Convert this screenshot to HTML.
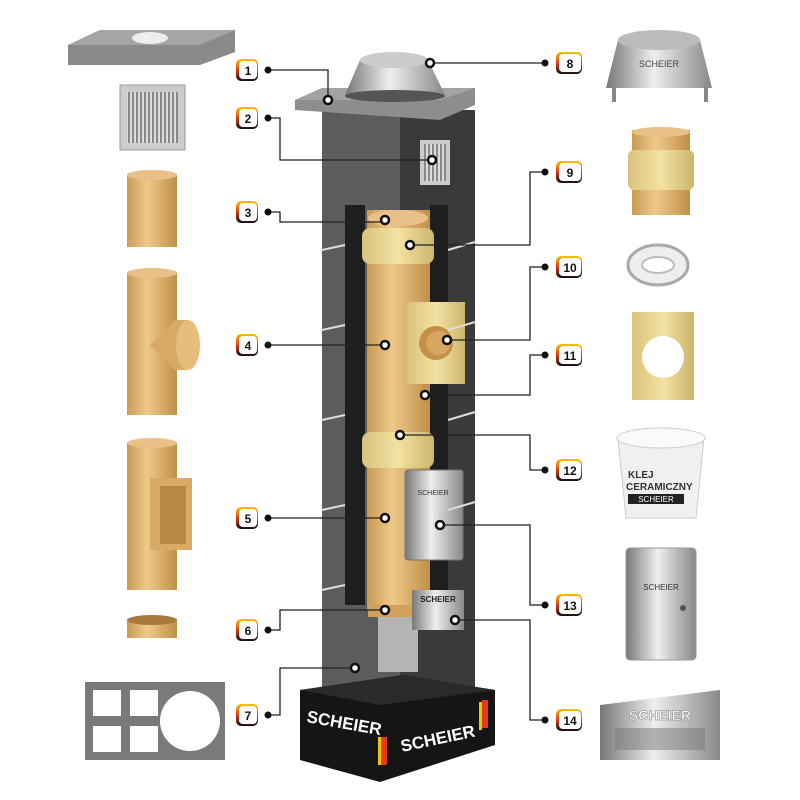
<!DOCTYPE html>
<html><head><style>
body{margin:0;background:#fff;width:800px;height:800px;overflow:hidden}
svg{display:block}
text{font-family:"Liberation Sans",sans-serif}
</style></head><body>
<svg width="800" height="800" viewBox="0 0 800 800" xmlns="http://www.w3.org/2000/svg">
<defs>
<linearGradient id="tan" x1="0" x2="1"><stop offset="0" stop-color="#c99a52"/><stop offset=".4" stop-color="#eec98a"/><stop offset="1" stop-color="#c08f48"/></linearGradient>
<linearGradient id="steel" x1="0" x2="1"><stop offset="0" stop-color="#777"/><stop offset=".45" stop-color="#eee"/><stop offset="1" stop-color="#888"/></linearGradient>
<linearGradient id="ins" x1="0" x2="1"><stop offset="0" stop-color="#d9c27a"/><stop offset=".5" stop-color="#f3e2a4"/><stop offset="1" stop-color="#cdb56b"/></linearGradient>
<linearGradient id="badge" x1="0" x2="0" y1="0" y2="1"><stop offset="0" stop-color="#f5c400"/><stop offset=".5" stop-color="#e03a1a"/><stop offset="1" stop-color="#111"/></linearGradient>
<pattern id="grille" width="4" height="4" patternUnits="userSpaceOnUse"><rect width="4" height="4" fill="#ddd"/><rect width="2" height="4" fill="#888"/></pattern>
</defs>

<!-- LEFT PARTS -->
<polygon points="68,45 100,30 235,30 235,52 200,65 68,65" fill="#8a8a8a"/>
<polygon points="68,45 100,30 235,30 200,45" fill="#a5a5a5"/>
<ellipse cx="150" cy="38" rx="18" ry="6" fill="#eee"/>
<rect x="120" y="85" width="65" height="65" fill="#ccc" stroke="#999"/>
<rect x="127" y="92" width="51" height="51" fill="url(#grille)"/>
<rect x="127" y="175" width="50" height="72" fill="url(#tan)"/>
<ellipse cx="152" cy="175" rx="25" ry="5" fill="#e8c088"/>
<rect x="127" y="273" width="50" height="142" fill="url(#tan)"/>
<ellipse cx="152" cy="273" rx="25" ry="5" fill="#e8c088"/>
<polygon points="150,345 175,320 188,320 188,370 175,370" fill="#d9aa66"/>
<ellipse cx="188" cy="345" rx="12" ry="25" fill="#e6bd7a"/>
<rect x="127" y="443" width="50" height="147" fill="url(#tan)"/>
<ellipse cx="152" cy="443" rx="25" ry="5" fill="#e8c088"/>
<rect x="150" y="478" width="42" height="72" fill="#d9aa66"/>
<rect x="160" y="486" width="26" height="58" fill="#b98843"/>
<rect x="127" y="620" width="50" height="18" fill="url(#tan)"/>
<ellipse cx="152" cy="620" rx="25" ry="5" fill="#a8793a"/>
<rect x="85" y="682" width="140" height="78" fill="#7a7a7a"/>
<rect x="93" y="690" width="28" height="26" fill="#fff"/><rect x="130" y="690" width="28" height="26" fill="#fff"/>
<rect x="93" y="726" width="28" height="26" fill="#fff"/><rect x="130" y="726" width="28" height="26" fill="#fff"/>
<circle cx="190" cy="721" r="30" fill="#fff"/>

<!-- RIGHT PARTS -->
<polygon points="618,40 700,40 712,88 606,88" fill="url(#steel)"/>
<ellipse cx="659" cy="40" rx="41" ry="10" fill="#bbb"/>
<rect x="612" y="86" width="4" height="16" fill="#888"/><rect x="704" y="86" width="4" height="16" fill="#888"/>
<text x="659" y="67" font-size="9" text-anchor="middle" fill="#444">SCHEIER</text>
<rect x="632" y="130" width="58" height="85" fill="url(#tan)"/>
<ellipse cx="661" cy="132" rx="29" ry="5" fill="#e8c088"/>
<rect x="628" y="150" width="66" height="40" rx="6" fill="url(#ins)"/>
<ellipse cx="658" cy="265" rx="30" ry="20" fill="#eee" stroke="#aaa" stroke-width="3"/>
<ellipse cx="658" cy="265" rx="16" ry="8" fill="#fff" stroke="#bbb" stroke-width="2"/>
<rect x="632" y="312" width="62" height="88" fill="url(#ins)"/>
<circle cx="663" cy="357" r="21" fill="#fff"/>
<path d="M618,438 L704,438 L696,518 L626,518 Z" fill="#f0f0f0" stroke="#ccc"/>
<ellipse cx="661" cy="438" rx="44" ry="10" fill="#fafafa" stroke="#ccc"/>
<text x="628" y="478" font-size="10" font-weight="bold" fill="#333">KLEJ</text>
<text x="626" y="490" font-size="10" font-weight="bold" fill="#333">CERAMICZNY</text>
<rect x="628" y="494" width="56" height="10" fill="#222"/>
<text x="656" y="502" font-size="8" text-anchor="middle" fill="#fff">SCHEIER</text>
<rect x="626" y="548" width="70" height="112" rx="4" fill="url(#steel)" stroke="#999"/>
<text x="661" y="590" font-size="8" text-anchor="middle" fill="#333">SCHEIER</text>
<circle cx="683" cy="608" r="3" fill="#555"/>
<polygon points="600,705 720,690 720,760 600,760" fill="url(#steel)"/>
<text x="660" y="720" font-size="14" font-weight="bold" text-anchor="middle" fill="#fff" stroke="#777" stroke-width=".5">SCHEIER</text>
<rect x="615" y="728" width="90" height="22" fill="#777" opacity=".5"/>

<!-- CHIMNEY -->
<rect x="322" y="110" width="80" height="580" fill="#5c5c5c"/>
<rect x="400" y="110" width="75" height="580" fill="#3a3a3a"/>
<rect x="345" y="205" width="20" height="400" fill="#1e1e1e"/>
<rect x="430" y="205" width="18" height="400" fill="#1e1e1e"/>
<rect x="367" y="210" width="63" height="400" fill="url(#tan)"/>
<ellipse cx="398" cy="218" rx="30" ry="8" fill="#e8c088"/>
<rect x="362" y="228" width="72" height="36" rx="8" fill="url(#ins)"/>
<rect x="362" y="432" width="72" height="36" rx="8" fill="url(#ins)"/>
<rect x="407" y="302" width="58" height="82" fill="url(#ins)"/>
<circle cx="436" cy="343" r="17" fill="#c4904a"/>
<circle cx="438" cy="343" r="12" fill="#d9a562"/>
<rect x="405" y="470" width="58" height="90" rx="3" fill="url(#steel)" stroke="#777"/>
<text x="433" y="495" font-size="7" text-anchor="middle" fill="#333">SCHEIER</text>
<rect x="368" y="605" width="60" height="12" fill="#d2a05a"/>
<rect x="378" y="617" width="40" height="55" fill="#b5b5b5"/>
<rect x="412" y="590" width="52" height="40" fill="url(#steel)"/>
<text x="438" y="602" font-size="8" font-weight="bold" text-anchor="middle" fill="#222">SCHEIER</text>
<g stroke="#ddd" stroke-width="2">
<line x1="322" y1="250" x2="345" y2="245"/><line x1="322" y1="330" x2="345" y2="325"/><line x1="322" y1="420" x2="345" y2="415"/><line x1="322" y1="510" x2="345" y2="505"/><line x1="322" y1="590" x2="345" y2="585"/>
<line x1="448" y1="250" x2="475" y2="242"/><line x1="448" y1="330" x2="475" y2="322"/><line x1="448" y1="420" x2="475" y2="412"/><line x1="448" y1="510" x2="475" y2="502"/>
</g>
<polygon points="295,100 322,88 475,88 475,105 440,120 295,110" fill="#8d8d8d"/>
<polygon points="295,100 322,88 475,88 440,100" fill="#a3a3a3"/>
<polygon points="360,60 428,60 445,95 345,95" fill="url(#steel)"/>
<ellipse cx="394" cy="60" rx="34" ry="8" fill="#ccc"/>
<ellipse cx="395" cy="96" rx="50" ry="6" fill="#555"/>
<rect x="420" y="140" width="30" height="45" fill="#ccc"/>
<rect x="424" y="144" width="22" height="37" fill="url(#grille)"/>
<!-- base -->
<polygon points="300,690 402,675 495,690 495,745 380,782 300,760" fill="#151515"/>
<polygon points="300,690 402,675 495,690 380,705" fill="#2a2a2a"/>
<text x="306" y="722" font-size="17" font-weight="bold" fill="#fff" transform="rotate(10 306 722)">SCHEIER</text>
<text x="402" y="752" font-size="17" font-weight="bold" fill="#fff" transform="rotate(-12 402 752)">SCHEIER</text>
<rect x="381" y="737" width="6" height="28" fill="#e03a1a"/><rect x="378" y="737" width="3" height="28" fill="#f5c400"/>
<rect x="482" y="700" width="6" height="28" fill="#e03a1a"/><rect x="479" y="702" width="3" height="28" fill="#f5c400"/>

<!-- CONNECTORS -->
<g fill="none" stroke="#222" stroke-width="1.3">
<polyline points="268,70 328,70 328,100"/>
<polyline points="268,118 280,118 280,160 432,160"/>
<polyline points="268,212 280,212 280,222 385,222"/>
<polyline points="268,345 385,345"/>
<polyline points="268,518 385,518"/>
<polyline points="268,630 280,630 280,610 385,610"/>
<polyline points="268,715 280,715 280,668 355,668"/>
<polyline points="545,63 430,63"/>
<polyline points="545,172 530,172 530,245 410,245"/>
<polyline points="545,267 530,267 530,340 447,340"/>
<polyline points="545,355 530,355 530,395 425,395"/>
<polyline points="545,470 530,470 530,435 400,435"/>
<polyline points="545,605 530,605 530,525 440,525"/>
<polyline points="545,720 530,720 530,620 455,620"/>
</g>
<g fill="#fff" stroke="#111" stroke-width="2.5">
<circle cx="328" cy="100" r="4"/><circle cx="432" cy="160" r="4"/><circle cx="385" cy="220" r="4"/><circle cx="385" cy="345" r="4"/><circle cx="385" cy="518" r="4"/><circle cx="385" cy="610" r="4"/><circle cx="355" cy="668" r="4"/>
<circle cx="430" cy="63" r="4"/><circle cx="410" cy="245" r="4"/><circle cx="447" cy="340" r="4"/><circle cx="425" cy="395" r="4"/><circle cx="400" cy="435" r="4"/><circle cx="440" cy="525" r="4"/><circle cx="455" cy="620" r="4"/>
</g>
<g fill="#111">
<circle cx="268" cy="70" r="3.5"/><circle cx="268" cy="118" r="3.5"/><circle cx="268" cy="212" r="3.5"/><circle cx="268" cy="345" r="3.5"/><circle cx="268" cy="518" r="3.5"/><circle cx="268" cy="630" r="3.5"/><circle cx="268" cy="715" r="3.5"/>
<circle cx="545" cy="63" r="3.5"/><circle cx="545" cy="172" r="3.5"/><circle cx="545" cy="267" r="3.5"/><circle cx="545" cy="355" r="3.5"/><circle cx="545" cy="470" r="3.5"/><circle cx="545" cy="605" r="3.5"/><circle cx="545" cy="720" r="3.5"/>
</g>
<!-- BADGES -->
<g font-size="12" font-weight="bold" text-anchor="middle" fill="#111">
<g transform="translate(236,59)"><rect width="22" height="22" rx="5" fill="url(#badge)"/><rect x="3" y="2" width="18" height="18" rx="4" fill="#fff"/><text x="12" y="16">1</text></g>
<g transform="translate(236,107)"><rect width="22" height="22" rx="5" fill="url(#badge)"/><rect x="3" y="2" width="18" height="18" rx="4" fill="#fff"/><text x="12" y="16">2</text></g>
<g transform="translate(236,201)"><rect width="22" height="22" rx="5" fill="url(#badge)"/><rect x="3" y="2" width="18" height="18" rx="4" fill="#fff"/><text x="12" y="16">3</text></g>
<g transform="translate(236,334)"><rect width="22" height="22" rx="5" fill="url(#badge)"/><rect x="3" y="2" width="18" height="18" rx="4" fill="#fff"/><text x="12" y="16">4</text></g>
<g transform="translate(236,507)"><rect width="22" height="22" rx="5" fill="url(#badge)"/><rect x="3" y="2" width="18" height="18" rx="4" fill="#fff"/><text x="12" y="16">5</text></g>
<g transform="translate(236,619)"><rect width="22" height="22" rx="5" fill="url(#badge)"/><rect x="3" y="2" width="18" height="18" rx="4" fill="#fff"/><text x="12" y="16">6</text></g>
<g transform="translate(236,704)"><rect width="22" height="22" rx="5" fill="url(#badge)"/><rect x="3" y="2" width="18" height="18" rx="4" fill="#fff"/><text x="12" y="16">7</text></g>
<g transform="translate(556,52)"><rect width="26" height="22" rx="5" fill="url(#badge)"/><rect x="3" y="2" width="22" height="18" rx="4" fill="#fff"/><text x="14" y="16">8</text></g>
<g transform="translate(556,161)"><rect width="26" height="22" rx="5" fill="url(#badge)"/><rect x="3" y="2" width="22" height="18" rx="4" fill="#fff"/><text x="14" y="16">9</text></g>
<g transform="translate(556,256)"><rect width="26" height="22" rx="5" fill="url(#badge)"/><rect x="3" y="2" width="22" height="18" rx="4" fill="#fff"/><text x="14" y="16">10</text></g>
<g transform="translate(556,344)"><rect width="26" height="22" rx="5" fill="url(#badge)"/><rect x="3" y="2" width="22" height="18" rx="4" fill="#fff"/><text x="14" y="16">11</text></g>
<g transform="translate(556,459)"><rect width="26" height="22" rx="5" fill="url(#badge)"/><rect x="3" y="2" width="22" height="18" rx="4" fill="#fff"/><text x="14" y="16">12</text></g>
<g transform="translate(556,594)"><rect width="26" height="22" rx="5" fill="url(#badge)"/><rect x="3" y="2" width="22" height="18" rx="4" fill="#fff"/><text x="14" y="16">13</text></g>
<g transform="translate(556,709)"><rect width="26" height="22" rx="5" fill="url(#badge)"/><rect x="3" y="2" width="22" height="18" rx="4" fill="#fff"/><text x="14" y="16">14</text></g>
</g>
</svg>
</body></html>
